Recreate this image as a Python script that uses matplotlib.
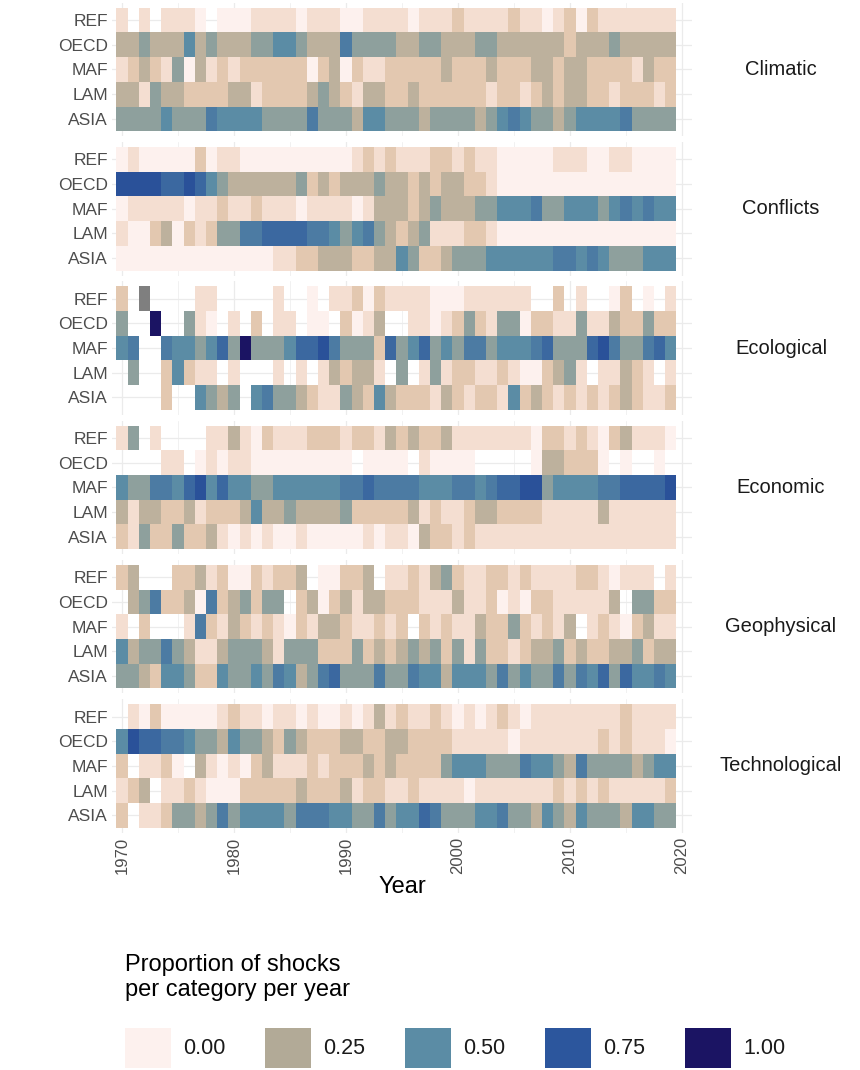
import numpy as np
import matplotlib
matplotlib.use("Agg")
import matplotlib.pyplot as plt
from matplotlib.colors import LinearSegmentedColormap, ListedColormap, Normalize
from matplotlib.patches import Rectangle

plt.rcParams['font.family'] = ['Liberation Sans', 'DejaVu Sans']

years = np.arange(1970, 2020)
regions = ['REF', 'OECD', 'MAF', 'LAM', 'ASIA']
categories = ['Climatic', 'Conflicts', 'Ecological', 'Economic', 'Geophysical', 'Technological']

# one character per year (1970-2019)
# '.' = no tile, 'g' = NA (grey tile)
level = {'0': 0.0, '1': 0.07, '2': 0.15, '3': 0.23, '4': 0.37, '5': 0.5,
         '6': 0.58, '7': 0.67, '8': 0.77, '9': 0.88, 'X': 1.0}

climatic = {
    'REF':  "1.1.1110.0" "0011110111" "00111" "10111" "2111121101" "2021111111",
    'OECD': "3343335343" "3344554333" "64444" "33443" "3344333333" "2333433333",
    'MAF':  "1232140312" "1222222023" "02112" "22223" "2223222332" "3322221322",
    'LAM':  "3314332222" "3312222343" "21332" "23222" "2221221232" "3322122212",
    'ASIA': "4444544465" "5554444644" "43554" "44344" "4434565443" "4555564444",
}
conflicts = {
    'REF':  "0100000201" "1000000000" "01212" "11122" "1211000001" "1100110000",
    'OECD': "8888778754" "3333334232" "33343" "32323" "3221000000" "0000000000",
    'MAF':  "0111110112" "1121110111" "10133" "32343" "3344555644" "5554565655",
    'LAM':  "1002302124" "4667777665" "45643" "23411" "1221000000" "0000000000",
    'ASIA': "0000000000" "0000112233" "32233" "54223" "4445555556" "6565444555",
}
ecological = {
    'REF':  "2.g....11." "....1..0.1" "12021" "11100" "0111111..2" ".1..02.0.1",
    'OECD': "4..X..410." "1.2.11.00." "2013." ".1101" "2421440221" "1411322422",
    'MAF':  "56..655457" "4X44457786" "44427" "45745" "4664555674" "4478644675",
    'LAM':  ".4..25211." "1...1.1.13" "2331." "4.141" "2211210023" "41.11321.1",
    'ASIA': "....2..543" "4.56443211" "43253" "22213" "2122152321" "2121232112",
}
economic = {
    'REF':  "14.1....11" "3102111222" "12213" "23223" "1111111022" "1210231110",
    'OECD': "....11.010" "1100000000" "0.000" "0.100" "00.....033" "2220.0..0.",
    'MAF':  "5446657857" "5544555555" "66766" "66555" "6656778845" "5556677778",
    'LAM':  "3133223122" "2353343333" "42222" "23121" "1233222211" "1113111111",
    'ASIA': "2142242231" "0101001000" "00101" "10322" "1211111111" "1111111111",
}
geophysical = {
    'REF':  "23...22312" "0021223.00" "223.1" "12134" "2112212111" "12210111.1",
    'OECD': ".346223062" "34244.2302" "31332" "22111" "3112010221" "11113.4422",
    'MAF':  "1.2...1621" "3212102133" "21121" "2.212" "1132242121" "3.12102311",
    'LAM':  "5344643113" "4443144422" "24232" "34342" "4142212334" "2322334233",
    'ASIA': "4432554225" "4454653467" "44464" "46553" "5554645446" "4657475565",
}
technological = {
    'REF':  ".102000001" "2110110100" "10131" "21121" "0101210111" "1111121111",
    'OECD': "5877665443" "5443243222" "33223" "32222" "1111101111" "1112121110",
    'MAF':  "2.1120.310" "1023111212" "22323" "22224" "5554446554" "3644443455",
    'LAM':  "123.112100" "0222223222" "31221" "12111" "1011111112" "1212111112",
    'ASIA': "2.11244346" "4555546665" "54464" "55764" "4455644354" "3544435544",
}
panels = [climatic, conflicts, ecological, economic, geophysical, technological]

legend_breaks = [0.0, 0.25, 0.5, 0.75, 1.0]
legend_labels = ['0.00', '0.25', '0.50', '0.75', '1.00']

shock_nodes = [0.0, 0.07, 0.15, 0.25, 0.37, 0.5, 0.75, 1.0]
shock_colors = ['#fdf1ee', '#f4ddd0', '#e3c8b0', '#b2aa97', '#8ea09d',
                '#5b8ca5', '#2c579e', '#1b1463']
cmap = LinearSegmentedColormap.from_list('shocks', list(zip(shock_nodes, shock_colors)))
norm = Normalize(0, 1)
na_cmap = ListedColormap(['#7f7f7f'])


def decode(table):
    vals = np.full((len(regions), len(years)), np.nan)
    na = np.zeros((len(regions), len(years)), dtype=bool)
    for r, reg in enumerate(regions):
        row = table[reg]
        assert len(row) == len(years), (reg, len(row))
        for j, ch in enumerate(row):
            if ch == 'g':
                na[r, j] = True
            elif ch != '.':
                vals[r, j] = level[ch]
    return vals, na


W, H = 860, 1070
fig = plt.figure(figsize=(W / 100, H / 100), dpi=100)

px_left, px_right = 112, 692
step = 139.3
tile_h = 123.5
xedges = np.append(years - 0.5, years[-1] + 0.5)
yedges = np.arange(len(regions) + 1) - 0.5

for k, (cat, table) in enumerate(zip(categories, panels)):
    top = 7.7 + step * k - 5
    bottom = 7.7 + step * k + tile_h + 5
    ax = fig.add_axes([px_left / W, 1 - bottom / H, (px_right - px_left) / W, (bottom - top) / H])
    vals, na = decode(table)
    ax.pcolormesh(xedges, yedges, np.ma.masked_invalid(vals), cmap=cmap, norm=norm,
                  edgecolors='none', linewidth=0, antialiased=False, zorder=2)
    ax.pcolormesh(xedges, yedges, np.ma.masked_where(~na, np.ones_like(vals)), cmap=na_cmap,
                  edgecolors='none', linewidth=0, antialiased=False, zorder=2)
    ax.set_xlim(1969.1, 2020.9)
    ax.set_ylim(len(regions) - 0.3, -0.7)
    ax.set_xticks(np.arange(1970, 2021, 10))
    ax.set_xticks(np.arange(1975, 2020, 10), minor=True)
    ax.set_yticks(range(len(regions)))
    ax.set_yticklabels(regions, fontsize=12.5, color='#4d4d4d')
    ax.grid(True, which='major', color='#ebebeb', linewidth=0.9, zorder=0)
    ax.grid(True, which='minor', axis='x', color='#ebebeb', linewidth=0.5, zorder=0)
    ax.set_axisbelow(True)
    ax.tick_params(which='both', length=0, pad=3)
    for s in ax.spines.values():
        s.set_visible(False)
    if k == len(categories) - 1:
        ax.set_xticklabels([str(y) for y in range(1970, 2021, 10)], rotation=90,
                           fontsize=12, color='#4d4d4d')
        ax.set_xlabel('Year', fontsize=17, color='black', labelpad=1)
    else:
        ax.set_xticklabels([])
    fig.text(781 / W, 1 - (7.7 + step * k + tile_h / 2) / H, cat, ha='center', va='center',
             fontsize=14.5, color='#1a1a1a')

# legend
fig.text(125 / W, 1 - 954 / H, 'Proportion of shocks\nper category per year', ha='left', va='top',
         fontsize=17, color='black', linespacing=1.15)
key_w, key_h = 46, 40
for i, (b, lab) in enumerate(zip(legend_breaks, legend_labels)):
    kx = 125 + 140 * i
    fig.patches.append(Rectangle((kx / W, 1 - 1068 / H), key_w / W, key_h / H,
                                 transform=fig.transFigure, facecolor=cmap(norm(b)),
                                 edgecolor='none'))
    fig.text((kx + key_w + 12) / W, 1 - 1048 / H, lab, ha='left', va='center',
             fontsize=15.5, color='#1a1a1a')

fig.savefig('out.png', dpi=100)
